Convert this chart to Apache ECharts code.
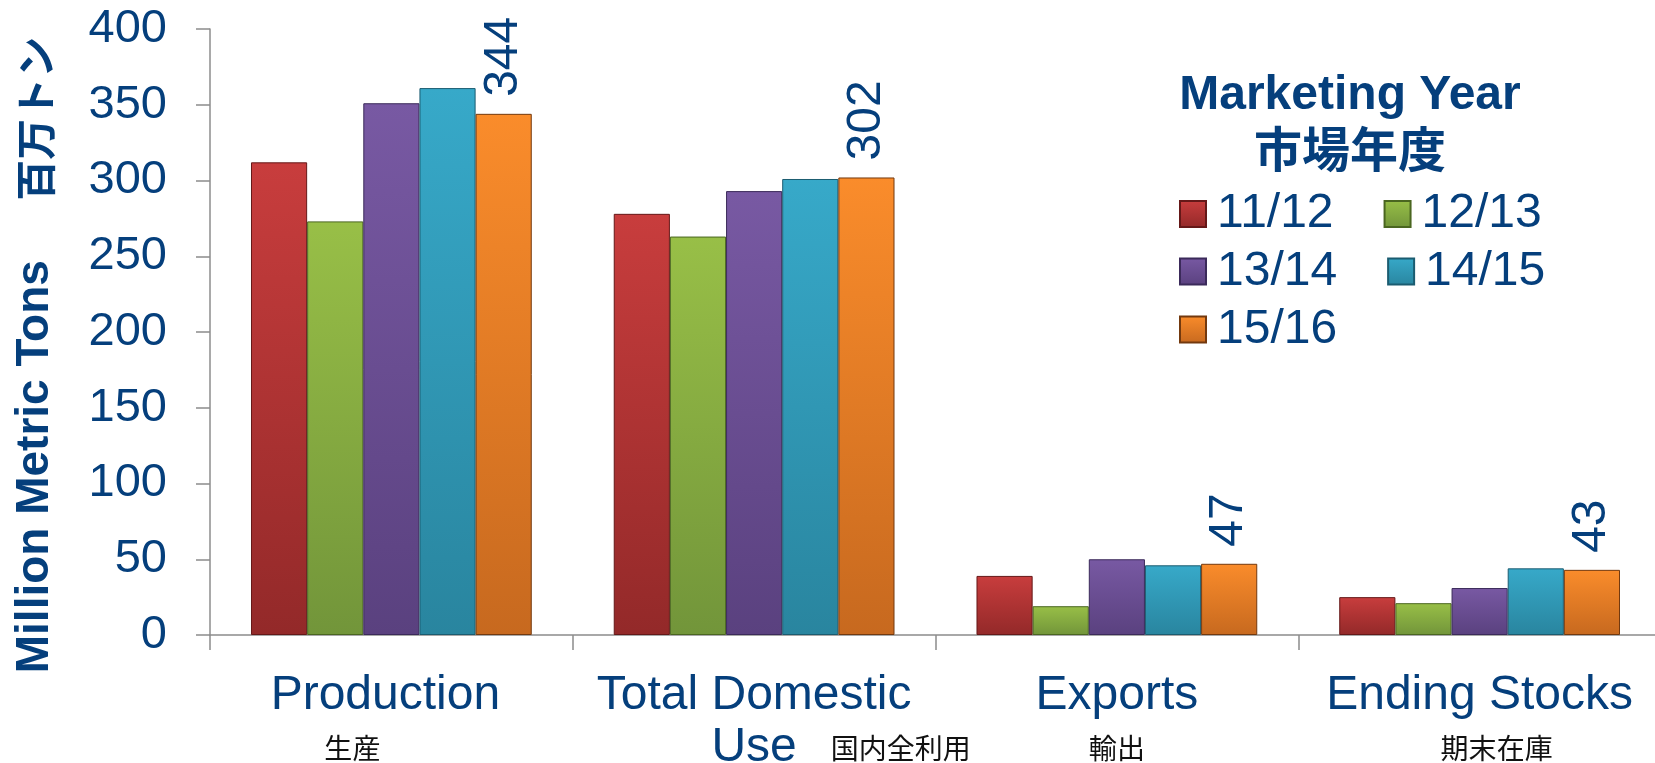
<!DOCTYPE html>
<html>
<head>
<meta charset="utf-8">
<script src="https://cdn.jsdelivr.net/npm/echarts@6/dist/echarts.min.js"></script>
<style>
html,body{margin:0;padding:0;background:#fff;}
#chart{width:1655px;height:763px;}
</style>
</head>
<body>
<div id="chart"></div>
<script>
// ---- data ----
var categories = ['Production', 'Total Domestic\nUse', 'Exports', 'Ending Stocks'];
var categoriesJa = ['生産', '国内全利用', '輸出', '期末在庫'];
var seriesNames = ['11/12', '12/13', '13/14', '14/15', '15/16'];
var v1112 = [312, 278, 39, 25];
var v1213 = [273, 263, 19, 21];
var v1314 = [351, 293, 50, 31];
var v1415 = [361, 301, 46, 44];
var v1516 = [344, 302, 47, 43];
var yTicks = { min: 0, max: 400, interval: 50 };
var yAxisName = 'Million Metric Tons';
var yAxisNameJa = '百万トン';
var legendTitle = ['Marketing Year', '市場年度'];

// ---- styles ----
var BLUE = '#053F7C';
var FONT = '"Liberation Sans", Arial, "Noto Sans CJK JP", sans-serif';
var JFONT = '"Noto Sans CJK JP", "Liberation Sans", sans-serif';
var palette = [
  { top: '#C83D3D', bottom: '#932929', border: '#651818' },
  { top: '#98BF47', bottom: '#72953A', border: '#4A6620' },
  { top: '#7859A3', bottom: '#5A417F', border: '#3B2A5A' },
  { top: '#37A9C9', bottom: '#29859F', border: '#1B5C70' },
  { top: '#FA8C2B', bottom: '#C7691F', border: '#73390E' }
];
var values = [v1112, v1213, v1314, v1415, v1516];

function grad(p) {
  return new echarts.graphic.LinearGradient(0, 0, 0, 1, [
    { offset: 0, color: p.top },
    { offset: 1, color: p.bottom }
  ]);
}

var series = seriesNames.map(function (name, i) {
  var s = {
    name: name,
    type: 'bar',
    data: values[i],
    barGap: '0%',
    barCategoryGap: '22.6%',
    itemStyle: {
      color: grad(palette[i]),
      borderColor: palette[i].border,
      borderWidth: 1
    }
  };
  if (i === 4) {
    s.label = {
      show: true,
      position: 'top',
      rotate: 90,
      align: 'left',
      verticalAlign: 'middle',
      distance: 17,
      fontSize: 48,
      fontFamily: FONT,
      color: BLUE
    };
  }
  return s;
});

var legendRows = [[seriesNames[0], seriesNames[1]], [seriesNames[2], seriesNames[3]], [seriesNames[4]]];
var legendCenters = [214, 271.5, 329.5];
var legends = legendRows.map(function (row, r) {
  return {
    data: row,
    left: 1179,
    top: legendCenters[r] - 25,
    orient: 'horizontal',
    icon: 'rect',
    itemWidth: 26,
    itemHeight: 26,
    itemGap: 50,
    padding: 0,
    selectedMode: false,
    textStyle: {
      fontSize: 48,
      fontFamily: FONT,
      color: BLUE,
      lineHeight: 50,
      padding: [0, 0, 0, 6]
    }
  };
});

var chart = echarts.init(document.getElementById('chart'));
chart.setOption({
  backgroundColor: '#ffffff',
  animation: false,
  title: {
    text: legendTitle.join('\n'),
    left: 1350,
    top: 67,
    textAlign: 'center',
    padding: 0,
    textStyle: {
      fontSize: 48,
      fontWeight: 'bold',
      fontFamily: FONT,
      color: BLUE,
      lineHeight: 58,
      align: 'center'
    }
  },
  legend: legends,
  grid: { left: 210, right: -6, top: 29, bottom: 128, containLabel: false, outerBoundsMode: 'none' },
  xAxis: {
    type: 'category',
    data: categories,
    axisLine: { lineStyle: { color: '#8C8C8C', width: 1.5 } },
    axisTick: { show: true, length: 15, lineStyle: { color: '#8C8C8C', width: 1.5 } },
    axisLabel: {
      interval: 0,
      margin: 35,
      fontSize: 48,
      lineHeight: 52,
      fontFamily: FONT,
      color: BLUE,
      formatter: function (val, idx) {
        var ja = categoriesJa[idx];
        if (idx === 0) return '{prod|' + val + '}\n{jpL|' + ja + '}';
        if (idx === 1) {
          var parts = val.split('\n');
          return parts[0] + '\n{use|' + parts[1] + '}{jpU|' + ja + '}';
        }
        if (idx === 3) return val + '\n{jpR|' + ja + '}';
        return val + '\n{jp|' + ja + '}';
      },
      rich: {
        prod: { fontSize: 48, fontFamily: FONT, color: BLUE, lineHeight: 52, padding: [0, 12, 0, 0] },
        jp: { fontSize: 28, fontFamily: JFONT, color: '#111111', lineHeight: 52 },
        jpL: { fontSize: 28, fontFamily: JFONT, color: '#111111', lineHeight: 52, padding: [0, 78, 0, 0] },
        jpR: { fontSize: 28, fontFamily: JFONT, color: '#111111', lineHeight: 52, padding: [0, 0, 0, 34] },
        jpU: { fontSize: 28, fontFamily: JFONT, color: '#111111', lineHeight: 52, padding: [0, 0, 0, 34] },
        use: { fontSize: 48, fontFamily: FONT, color: BLUE, lineHeight: 52, padding: [0, 0, 0, 174] }
      }
    }
  },
  yAxis: {
    type: 'value',
    min: yTicks.min,
    max: yTicks.max,
    interval: yTicks.interval,
    name: yAxisName + '   {ja|' + yAxisNameJa + '}',
    nameLocation: 'middle',
    nameGap: 152,
    nameTextStyle: {
      fontSize: 46,
      fontWeight: 'bold',
      fontFamily: FONT,
      color: BLUE,
      padding: [0, 46, 0, 0],
      rich: {
        ja: { fontSize: 41, fontWeight: 'bold', fontFamily: JFONT, color: BLUE, padding: [0, 0, 0, 21] }
      }
    },
    axisLine: { show: true, lineStyle: { color: '#8C8C8C', width: 1.5 } },
    axisTick: { show: true, length: 14, lineStyle: { color: '#8C8C8C', width: 1.5 } },
    splitLine: { show: false },
    axisLabel: {
      margin: 43,
      fontSize: 47,
      fontFamily: FONT,
      color: BLUE
    }
  },
  series: series
});
</script>
</body>
</html>
